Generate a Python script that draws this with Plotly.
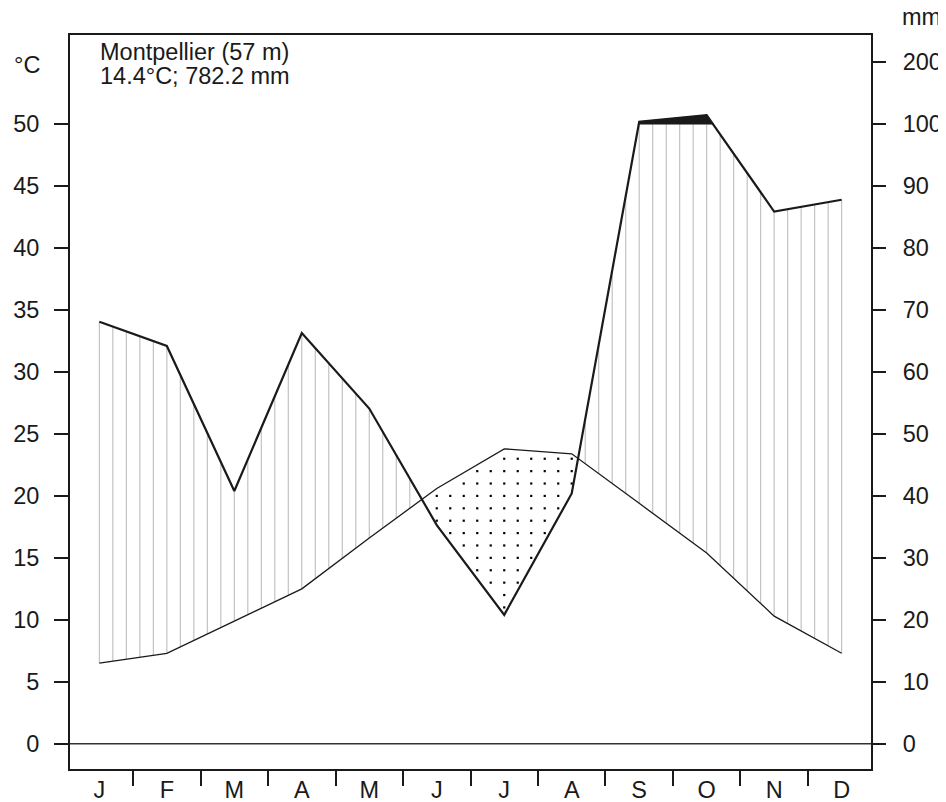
import numpy as np
import plotly.graph_objects as go

# ---- data ----
months = ["J", "F", "M", "A", "M", "J", "J", "A", "S", "O", "N", "D"]
temperature = [6.5, 7.3, 9.9, 12.5, 16.6, 20.6, 23.8, 23.4, 19.4, 15.4, 10.3, 7.3]   # degC
precipitation = [68.1, 64.2, 40.8, 66.3, 54.1, 35.3, 20.8, 40.4, 104.0, 114.8, 85.9, 87.8]  # mm
station = "Montpellier (57 m)"
summary = "14.4°C; 782.2 mm"
left_ticks = [0, 5, 10, 15, 20, 25, 30, 35, 40, 45, 50]
right_tickvals = [0, 5, 10, 15, 20, 25, 30, 35, 40, 45, 50, 55]
right_ticktext = ["0", "10", "20", "30", "40", "50", "60", "70", "80", "90", "100", "200"]

FONT = "Liberation Sans, Arial, sans-serif"
FS = 23.5
INK = "#1a1a1a"

xc = np.arange(12) + 0.5
t = np.array(temperature)
p = np.array(precipitation)
ps = np.where(p <= 100, p / 2.0, 50 + (p - 100) / 20.0)

# grid for hatching / dots
xg = np.round(0.5 + 0.2 * np.arange(56), 6)
tg = np.interp(xg, xc, t)
pg = np.interp(xg, xc, ps)

hx, hy = [], []
for x, tt, pp in zip(xg, tg, pg):
    if pp > tt:
        hx += [x, x, None]
        hy += [tt, min(pp, 50), None]

dx, dy = [], []
for x, tt, pp in zip(xg, tg, pg):
    for yv in range(0, 60):
        if pp + 0.3 < yv < tt - 0.35:
            dx.append(x)
            dy.append(yv)

# black fill above 100 mm
fx, fy = [], []
for i in range(11):
    x0, x1, y0, y1 = xc[i], xc[i + 1], ps[i], ps[i + 1]
    if y0 <= 50 < y1:
        xcr = x0 + (50 - y0) / (y1 - y0) * (x1 - x0)
        fx += [xcr]; fy += [50]
    if y1 > 50:
        fx += [x1]; fy += [y1]
    if y0 > 50 >= y1:
        xcr = x0 + (y0 - 50) / (y0 - y1) * (x1 - x0)
        fx += [xcr]; fy += [50]
fx.append(fx[0]); fy.append(fy[0])

fig = go.Figure()
fig.add_trace(go.Scatter(x=hx, y=hy, mode="lines", line=dict(color="#bdbdbd", width=1.1),
                         hoverinfo="skip", showlegend=False))
fig.add_trace(go.Scatter(x=dx, y=dy, mode="markers",
                         marker=dict(symbol="square", size=2.2, color="black", line=dict(width=0)),
                         hoverinfo="skip", showlegend=False))
fig.add_trace(go.Scatter(x=fx, y=fy, mode="lines", fill="toself", fillcolor=INK,
                         line=dict(color=INK, width=0.5), hoverinfo="skip", showlegend=False))
fig.add_trace(go.Scatter(x=xc, y=t, mode="lines", line=dict(color=INK, width=1.3),
                         showlegend=False, name="Temperature"))
fig.add_trace(go.Scatter(x=xc, y=ps, mode="lines", line=dict(color=INK, width=2.2),
                         showlegend=False, name="Precipitation"))
# dummy trace on secondary axis so it renders
fig.add_trace(go.Scatter(x=[xc[0]], y=[0], yaxis="y2", mode="markers",
                         marker=dict(opacity=0), hoverinfo="skip", showlegend=False))

fig.add_shape(type="line", xref="paper", x0=0, x1=1, yref="y", y0=0, y1=0,
              line=dict(color="#333333", width=1.4))

fig.add_annotation(x=0.035, xref="paper", y=55.85, yref="y", text=station, showarrow=False,
                   xanchor="left", yanchor="middle", font=dict(size=FS, family=FONT, color=INK))
fig.add_annotation(x=0.035, xref="paper", y=53.9, yref="y", text=summary, showarrow=False,
                   xanchor="left", yanchor="middle", font=dict(size=FS, family=FONT, color=INK))
fig.add_annotation(x=-0.0535, xref="paper", y=54.75, yref="y", text="°C", showarrow=False,
                   xanchor="center", yanchor="middle", font=dict(size=FS, family=FONT, color=INK))
fig.add_annotation(x=1.0625, xref="paper", y=1.0, yref="paper", yshift=3, text="mm",
                   showarrow=False, xanchor="center", yanchor="bottom",
                   font=dict(size=FS, family=FONT, color=INK))

YR = [-2.04, 57.2]
# page body has an 8px margin, so the figure is offset by (8, 8)
fig.update_layout(
    width=938, height=800,
    margin=dict(l=61.5, r=75, t=27, b=39, autoexpand=False),
    plot_bgcolor="white", paper_bgcolor="white",
    font=dict(family=FONT, size=FS, color=INK),
    xaxis=dict(range=[0.065, 11.935], tickmode="array", tickvals=xc, ticktext=months,
               ticks="", showgrid=False, zeroline=False, showline=True, mirror=True,
               linecolor=INK, linewidth=2, ticklabelstandoff=-1, automargin=False,
               minor=dict(tickmode="array", tickvals=list(range(1, 12)), ticks="outside",
                          ticklen=15, tickwidth=1.5, tickcolor=INK, showgrid=False)),
    yaxis=dict(range=YR, tickmode="array", tickvals=left_ticks, ticks="outside", ticklen=14,
               tickwidth=1.5, tickcolor=INK, showgrid=False, zeroline=False,
               showline=True, mirror=True, linecolor=INK, linewidth=2,
               ticklabelstandoff=10, automargin=False),
    yaxis2=dict(range=YR, overlaying="y", side="right", tickmode="array",
                tickvals=right_tickvals, ticktext=right_ticktext, ticks="outside", ticklen=14,
                tickwidth=1.5, tickcolor=INK, showgrid=False, zeroline=False,
                showline=False, ticklabelstandoff=12, automargin=False),
)

fig.write_html("out.html")
